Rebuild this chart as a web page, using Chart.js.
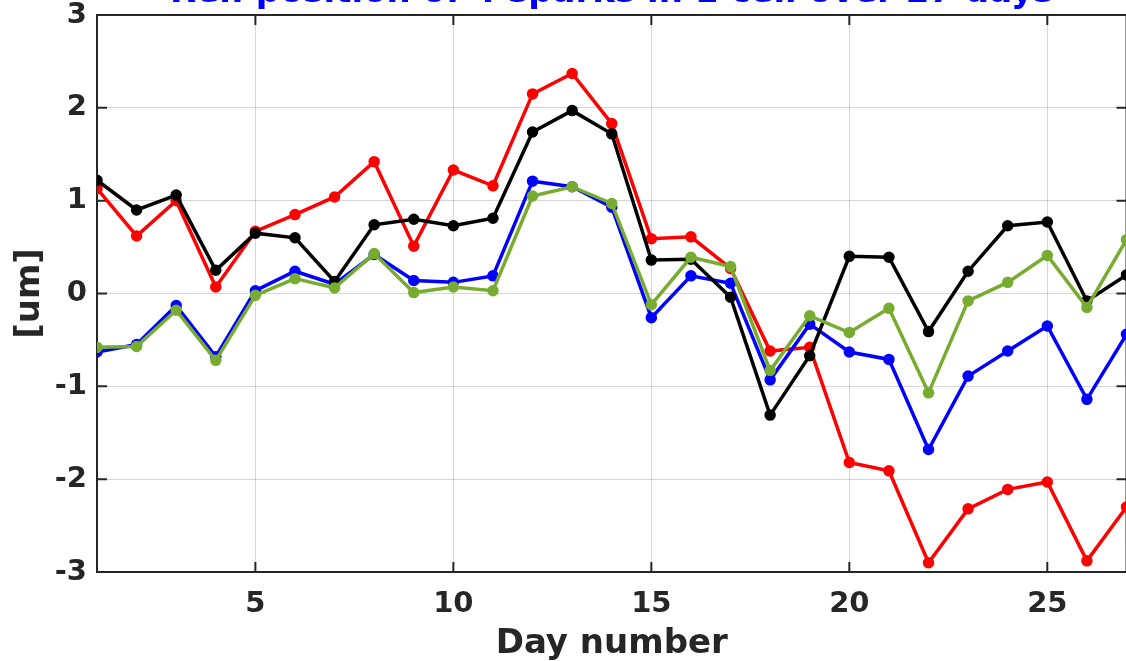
<!DOCTYPE html>
<html>
<head>
<meta charset="utf-8">
<script src="https://cdn.jsdelivr.net/npm/chart.js@4.4.0/dist/chart.umd.min.js"></script>
<style>
    html, body { margin: 0; padding: 0; background: #fff; overflow: hidden; }
    #wrap { position: relative; width: 1126px; height: 661px; overflow: hidden; }
    #chart { position: absolute; left: 0; top: -30px; }
</style>
</head>
<body>
<div id="wrap"><canvas id="chart" width="1134" height="691"></canvas></div>
<script>
const days = [1, 2, 3, 4, 5, 6, 7, 8, 9, 10, 11, 12, 13, 14, 15, 16, 17, 18, 19, 20, 21, 22, 23, 24, 25, 26, 27];
const xTicks = [5, 10, 15, 20, 25];
const yTicks = [-3, -2, -1, 0, 1, 2, 3];

// one row per spark
const sparkRed = [1.13, 0.62, 1.0, 0.07, 0.67, 0.85, 1.04, 1.42, 0.51, 1.33, 1.16, 2.15, 2.37, 1.83, 0.59, 0.61, 0.27, -0.62, -0.58, -1.82, -1.91, -2.9, -2.32, -2.11, -2.03, -2.88, -2.3];
const sparkBlack = [1.22, 0.9, 1.06, 0.25, 0.65, 0.6, 0.13, 0.74, 0.8, 0.73, 0.81, 1.74, 1.97, 1.72, 0.36, 0.37, -0.04, -1.31, -0.67, 0.4, 0.39, -0.41, 0.24, 0.73, 0.77, -0.08, 0.2];
const sparkBlue = [-0.63, -0.55, -0.13, -0.68, 0.03, 0.24, 0.1, 0.42, 0.14, 0.12, 0.19, 1.21, 1.15, 0.93, -0.26, 0.19, 0.11, -0.93, -0.33, -0.63, -0.71, -1.68, -0.89, -0.62, -0.35, -1.14, -0.44];
const sparkGreen = [-0.58, -0.57, -0.18, -0.72, -0.02, 0.16, 0.06, 0.43, 0.01, 0.07, 0.03, 1.05, 1.15, 0.97, -0.12, 0.39, 0.29, -0.83, -0.24, -0.42, -0.16, -1.07, -0.08, 0.12, 0.41, -0.15, 0.58];

const axisColor = '#262626';
const font = 'DejaVu Sans';

function line(label, values, color) {
    return {
        label,
        data: days.map((d, i) => ({x: d, y: values[i]})),
        borderColor: color,
        backgroundColor: color,
        borderWidth: 3.5,
        pointRadius: 4,
        pointHoverRadius: 4,
        tension: 0
    };
}

// matlab style: ticks pointing inward + top/right edge of the box
const innerTicks = {
    id: 'innerTicks',
    beforeDatasetsDraw(chart) {
        const {ctx, chartArea: a, scales: {x, y}} = chart;
        ctx.save();
        ctx.strokeStyle = axisColor;
        ctx.lineWidth = 2;
        ctx.beginPath();
        xTicks.forEach(v => {
            const px = x.getPixelForValue(v);
            ctx.moveTo(px, a.bottom); ctx.lineTo(px, a.bottom - 10);
            ctx.moveTo(px, a.top); ctx.lineTo(px, a.top + 10);
        });
        yTicks.forEach(v => {
            const py = y.getPixelForValue(v);
            ctx.moveTo(a.left, py); ctx.lineTo(a.left + 10, py);
            ctx.moveTo(a.right, py); ctx.lineTo(a.right - 10, py);
        });
        ctx.moveTo(a.left, a.top); ctx.lineTo(a.right, a.top);
        ctx.moveTo(a.right, a.top); ctx.lineTo(a.right, a.bottom);
        ctx.stroke();
        ctx.restore();
    }
};

new Chart(document.getElementById('chart'), {
    type: 'line',
    data: {
        datasets: [
            line('Spark 4', sparkGreen, '#77AC30'),
            line('Spark 2', sparkBlack, '#000000'),
            line('Spark 3', sparkBlue, '#0000FF'),
            line('Spark 1', sparkRed, '#FF0000')
        ]
    },
    plugins: [innerTicks],
    options: {
        responsive: false,
        animation: false,
        devicePixelRatio: 1,
        layout: {padding: {left: 0, right: 3, top: 0, bottom: 0}},
        plugins: {
            legend: {display: false},
            tooltip: {enabled: false},
            title: {
                display: true,
                fullSize: false,
                text: 'Rel. position of 4 sparks in 1 cell over 27 days',
                color: '#0000FF',
                font: {family: font, size: 34, weight: 'bold', lineHeight: 1.1},
                padding: {top: 4.5, bottom: 3.1}
            }
        },
        scales: {
            x: {
                type: 'linear',
                min: 1,
                max: 27,
                afterBuildTicks: scale => { scale.ticks = xTicks.map(value => ({value})); },
                afterFit: scale => { scale.height = 89; },
                grid: {color: 'rgba(0,0,0,0.16)', lineWidth: 1, drawTicks: false},
                border: {color: axisColor, width: 2},
                ticks: {color: axisColor, padding: 15, font: {family: font, size: 29, weight: 'bold'}},
                title: {
                    display: true,
                    text: 'Day number',
                    color: axisColor,
                    font: {family: font, size: 34, weight: 'bold', lineHeight: 1.0},
                    padding: {top: 0, bottom: 0}
                }
            },
            y: {
                min: -3,
                max: 3,
                afterBuildTicks: scale => { scale.ticks = yTicks.map(value => ({value})); },
                afterFit: scale => { scale.width = 97; },
                grid: {color: 'rgba(0,0,0,0.16)', lineWidth: 1, drawTicks: false},
                border: {color: axisColor, width: 2},
                ticks: {color: axisColor, padding: 10, font: {family: font, size: 29, weight: 'bold'}},
                title: {
                    display: true,
                    text: '[um]',
                    color: axisColor,
                    font: {family: font, size: 34, weight: 'bold', lineHeight: 1.2},
                    padding: {top: 10, bottom: 0}
                }
            }
        }
    }
});
</script>
</body>
</html>
